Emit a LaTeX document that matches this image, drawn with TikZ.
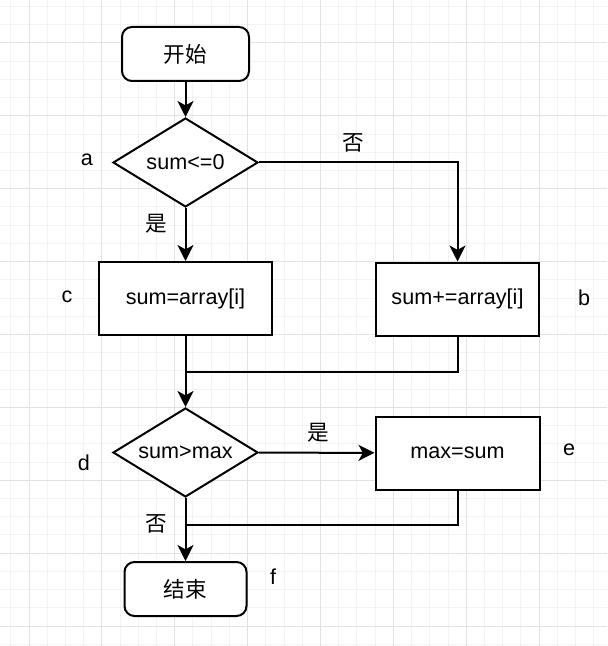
\documentclass[tikz,border=0pt]{standalone}
\usepackage{fontspec}
\setmainfont{Liberation Sans}
\newfontfamily\zh{Noto Sans CJK SC}
\usetikzlibrary{shapes.geometric,arrows.meta}
\definecolor{gridminor}{HTML}{F3F3F3}
\definecolor{gridmajor}{HTML}{E2E2E2}

\begin{document}
\begin{tikzpicture}[x=0.5pt,y=-0.5pt,
    font={\fontsize{10.8}{13}\selectfont},
    line width=1pt,
    flow/.style={-{Stealth[length=8pt,width=8pt,inset=2.2pt]}},
    terminal/.style={draw,fill=white,rounded corners=5pt,minimum height=27pt,inner sep=0pt},
    process/.style={draw,fill=white,minimum height=36.5pt,inner sep=0pt},
    decision/.style={draw,fill=white,diamond,aspect=1.63,minimum width=72.5pt,minimum height=44.5pt,inner sep=0pt},
    lbl/.style={inner sep=0pt}]
\newcommand{\gridlines}{%
    \foreach \k in {0,...,32} \draw[gridminor,line width=0.5pt] ({10.78+18.22*\k},0) -- ++(0,646);
    \foreach \k in {0,...,35} \draw[gridminor,line width=0.5pt] (0,{6.56+18.22*\k}) -- ++(607,0);
    \foreach \k in {0,...,7} \draw[gridmajor,line width=0.5pt] ({29+72.9*\k},0) -- ++(0,646);
    \foreach \k in {0,...,8} \draw[gridmajor,line width=0.5pt] (0,{43+72.9*\k}) -- ++(607,0);}
\useasboundingbox (0,0) rectangle (607,646);
\fill[white] (0,0) rectangle (607,646);
\gridlines

\node[terminal,minimum width=63.5pt] (start) at (185.5,54) {\zh 开始};
\node[decision] (a) at (185.5,162.5) {sum<=0};
\node[process,minimum width=86.5pt] (c) at (185.5,298.5) {sum=array[i]};
\node[process,minimum width=81.5pt] (b) at (457.5,299) {sum+=array[i]};
\node[decision] (d) at (185.5,452.5) {sum>max};
\node[process,minimum width=82pt] (e) at (457.5,453) {max=sum};
\node[terminal,minimum width=61pt] (stop) at (185.5,589) {\zh 结束};

\node[lbl] (taga) at (87,160) {a};
\node[lbl] (tagb) at (584,298) {b};
\node[lbl] (tagc) at (67,297) {c};
\node[lbl] (tagd) at (84,463) {d};
\node[lbl] (tage) at (569,450) {e};
\node[lbl] (tagf) at (273,577) {f};

\node[lbl] (ano) at (353,143) {\zh 否};
\node[lbl] (ayes) at (156,224) {\zh 是};
\node[lbl] (dyes) at (318,433) {\zh 是};
\node[lbl] (dno) at (156,524) {\zh 否};

\coordinate (joinbc) at (185.5,372);
\coordinate (joinde) at (185.5,525);

\draw[flow] (start) -- (a);
\draw[flow] (a.east) -| (b.north);
\draw[flow] (a) -- (c);
\draw (b.south) |- (joinbc);
\draw[flow] (c) -- (d);
\draw[flow] (d) -- (e);
\draw (e.south) |- (joinde);
\draw[flow] (d) -- (stop);
\end{tikzpicture}
\end{document}
